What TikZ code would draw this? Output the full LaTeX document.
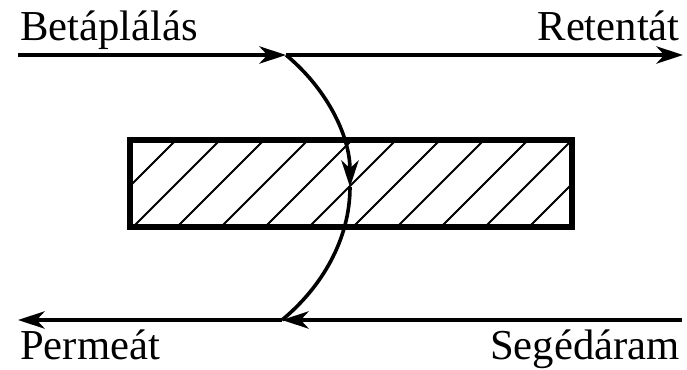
\documentclass[tikz,border=0pt]{standalone}
\usepackage{fontspec}
\setmainfont{Liberation Serif}
\usetikzlibrary{arrows.meta}

\begin{document}
\begin{tikzpicture}[
    x=0.75pt, y=0.75pt,
    lbl/.style={inner sep=0pt, font=\fontsize{32}{38}\selectfont},
    flow/.style={line width=2.7pt, -{Stealth[length=20pt, width=13pt, inset=6pt]}},
    membrane/.style={line width=4.5pt},
    hatch/.style={line width=1.5pt},
]
\useasboundingbox (0,0) rectangle (687,369);

% stream points
\coordinate (feedin) at (18,314);
\coordinate (topsplit) at (286,314);
\coordinate (retout) at (683,314);
\coordinate (sweepin) at (682,49);
\coordinate (botsplit) at (282,49);
\coordinate (permout) at (18,49);
\coordinate (mid) at (350,182);

% labels
\node[lbl, anchor=base west] (feed) at (20,329) {Betáplálás};
\node[lbl, anchor=base east] (retentate) at (680,329) {Retentát};
\node[lbl, anchor=base west] (permeate) at (20,10) {Permeát};
\node[lbl, anchor=base east] (sweep) at (680,10) {Segédáram};

% membrane
\begin{scope}
  \clip (130,142) rectangle (572,229);
  \foreach \x in {45,89,...,620}
    \draw[hatch] (\x,142) -- ++(87,87);
\end{scope}
\draw[membrane] (130,142) rectangle (572,229);

% Arrows
\draw[flow] (feedin) -- (topsplit);
\draw[flow] (topsplit) -- (retout);
\draw[flow] (sweepin) -- (botsplit);
\draw[flow] (botsplit) -- (permout);
\draw[flow] (topsplit) .. controls (326,281) and (350,234) .. (mid);
\draw[line width=2.7pt] (mid) .. controls (350,130) and (322,82) .. (botsplit);

\end{tikzpicture}
\end{document}
